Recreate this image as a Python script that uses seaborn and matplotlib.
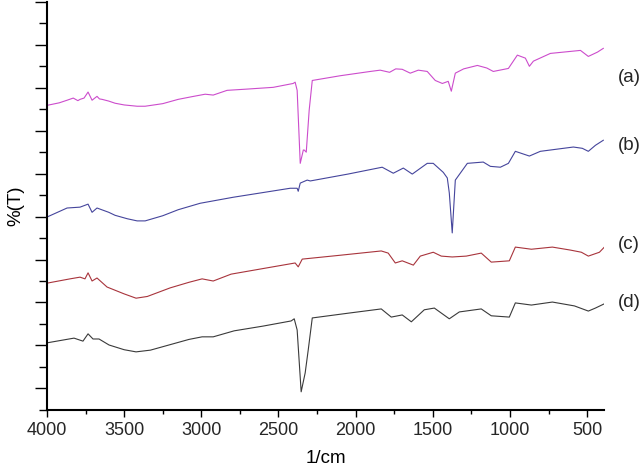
import numpy as np
import pandas as pd
import matplotlib.pyplot as plt
import seaborn as sns
from matplotlib.ticker import MultipleLocator
import matplotlib.transforms as mtransforms

# spectra: wavenumber (1/cm) and transmittance (a.u.)
wn_a = [4000, 3920, 3870, 3830, 3800, 3786, 3760, 3734, 3708, 3676, 3660, 3643, 3600, 3559,
        3500, 3416, 3364, 3250, 3150, 3050, 2975, 2923, 2833, 2700, 2534, 2405, 2392, 2379,
        2359, 2339, 2333, 2320, 2301, 2281, 2100, 1905, 1841, 1780, 1740, 1698, 1646, 1594,
        1536, 1484, 1438, 1400, 1380, 1354, 1300, 1211, 1150, 1108, 1010, 952, 900, 874, 848,
        738, 543, 492, 433, 394]
t_a = [70.9, 71.5, 72.1, 72.6, 72.0, 72.3, 72.6, 74.0, 72.1, 73.0, 72.4, 72.3, 71.9, 71.4,
       71.0, 70.7, 70.7, 71.3, 72.3, 73.0, 73.5, 73.3, 74.4, 74.7, 75.1, 76.0, 76.3, 74.4,
       57.4, 60.5, 60.5, 60.0, 69.8, 76.7, 77.8, 78.8, 79.1, 78.6, 79.4, 79.3, 78.4, 79.1,
       78.8, 76.7, 76.0, 76.5, 74.2, 78.4, 79.4, 80.2, 79.6, 78.8, 79.5, 82.6, 81.9, 80.0, 81.2,
       83.0, 83.7, 82.3, 83.3, 84.2]

wn_b = [4000, 3870, 3786, 3734, 3708, 3676, 3600, 3559, 3480, 3416, 3364, 3250, 3150, 3008,
        2794, 2600, 2424, 2379, 2372, 2359, 2314, 2294, 2050, 1828, 1756, 1691, 1633, 1536,
        1497, 1432, 1406, 1393, 1374, 1354, 1276, 1173, 1127, 1062, 1010, 965, 874, 803, 589,
        531, 492, 446, 394]
t_b = [44.9, 47.0, 47.2, 47.9, 46.0, 47.0, 46.0, 45.3, 44.5, 44.0, 44.0, 45.2, 46.6, 48.1,
       49.5, 50.6, 51.6, 51.6, 50.9, 52.8, 53.5, 53.3, 54.9, 56.5, 55.1, 56.3, 54.9, 57.4,
       57.4, 55.3, 54.0, 50.5, 41.2, 53.5, 57.4, 57.7, 56.7, 56.5, 57.4, 60.2, 59.1, 60.2,
       61.2, 60.9, 60.2, 61.6, 62.8]

wn_c = [4000, 3851, 3786, 3754, 3734, 3708, 3676, 3611, 3500, 3423, 3350, 3202, 3080, 2995,
        2923, 2807, 2600, 2392, 2372, 2346, 2100, 1834, 1789, 1743, 1698, 1626, 1581, 1497,
        1445, 1374, 1283, 1186, 1121, 1004, 965, 861, 725, 608, 537, 492, 420, 388]
t_c = [29.5, 30.5, 30.9, 30.5, 31.9, 30.0, 30.7, 28.6, 27.0, 26.0, 26.4, 28.4, 29.7, 30.5,
       30.0, 31.6, 32.9, 34.2, 33.3, 35.1, 36.0, 37.0, 36.5, 34.2, 34.7, 33.7, 35.8, 36.7,
       35.8, 35.6, 35.8, 36.5, 34.4, 34.7, 37.9, 37.4, 37.9, 37.2, 36.7, 35.8, 36.7, 37.9]

wn_d = [4000, 3825, 3767, 3734, 3702, 3663, 3598, 3500, 3423, 3330, 3200, 3080, 2995, 2923,
        2787, 2600, 2418, 2398, 2379, 2353, 2327, 2307, 2281, 2050, 1834, 1769, 1698, 1639,
        1555, 1490, 1393, 1328, 1186, 1121, 1004, 965, 861, 725, 582, 492, 446, 388]
t_d = [15.6, 16.7, 16.0, 17.7, 16.5, 16.5, 15.1, 14.0, 13.5, 13.9, 15.2, 16.4, 17.0, 17.0,
       18.4, 19.5, 20.7, 21.2, 18.6, 4.2, 8.6, 14.0, 21.4, 22.5, 23.5, 21.6, 22.1, 20.5,
       23.3, 23.7, 21.2, 22.8, 23.5, 21.9, 21.6, 24.9, 24.4, 25.1, 24.2, 23.0, 23.7, 24.7]

labels = ['(a)', '(b)', '(c)', '(d)']
label_y = [77.4, 61.6, 38.6, 25.1]
colors = ['#cc4ccc', '#45459c', '#a8343c', '#3a3a3a']

sns.set_theme(style='white')
plt.rcParams['font.family'] = ['Liberation Sans', 'DejaVu Sans']

fig = plt.figure(figsize=(6.44, 4.70), dpi=100)
ax = fig.add_axes([0.073, 0.128, 0.865, 0.868])

for wn, t, col in zip([wn_a, wn_b, wn_c, wn_d], [t_a, t_b, t_c, t_d], colors):
    df = pd.DataFrame({'wn': wn, 't': t})
    sns.lineplot(data=df, x='wn', y='t', sort=False, color=col, linewidth=0.8, ax=ax)

trans = mtransforms.blended_transform_factory(ax.transAxes, ax.transData)
for lab, y in zip(labels, label_y):
    ax.text(1.045, y, lab, transform=trans, ha='center', va='center', fontsize=13.5)

ax.set_xlim(4000, 390)
ax.set_ylim(0, 95)
ax.xaxis.set_major_locator(MultipleLocator(500))
ax.xaxis.set_minor_locator(MultipleLocator(250))
ax.set_yticks(np.arange(5, 96, 10))
ax.set_yticks(np.arange(0, 95, 10), minor=True)
ax.set_yticklabels([])
ax.tick_params(axis='x', which='major', direction='out', length=5, width=1, labelsize=13, bottom=True, color='black')
ax.tick_params(axis='x', which='minor', direction='out', length=3, width=1, bottom=True, color='black')
ax.tick_params(axis='y', which='major', direction='out', length=9, width=1, left=True, color='black')
ax.tick_params(axis='y', which='minor', direction='out', length=6, width=1, left=True, color='black')

for side in ['top', 'right']:
    ax.spines[side].set_visible(False)
for side in ['left', 'bottom']:
    ax.spines[side].set_color('black')
    ax.spines[side].set_linewidth(1.5)

ax.set_xlabel('1/cm', fontsize=13.5, color='black', labelpad=8)
ax.set_ylabel('%(T)', fontsize=13.5, color='black')
ax.grid(False)

fig.savefig('out.png', dpi=100)
